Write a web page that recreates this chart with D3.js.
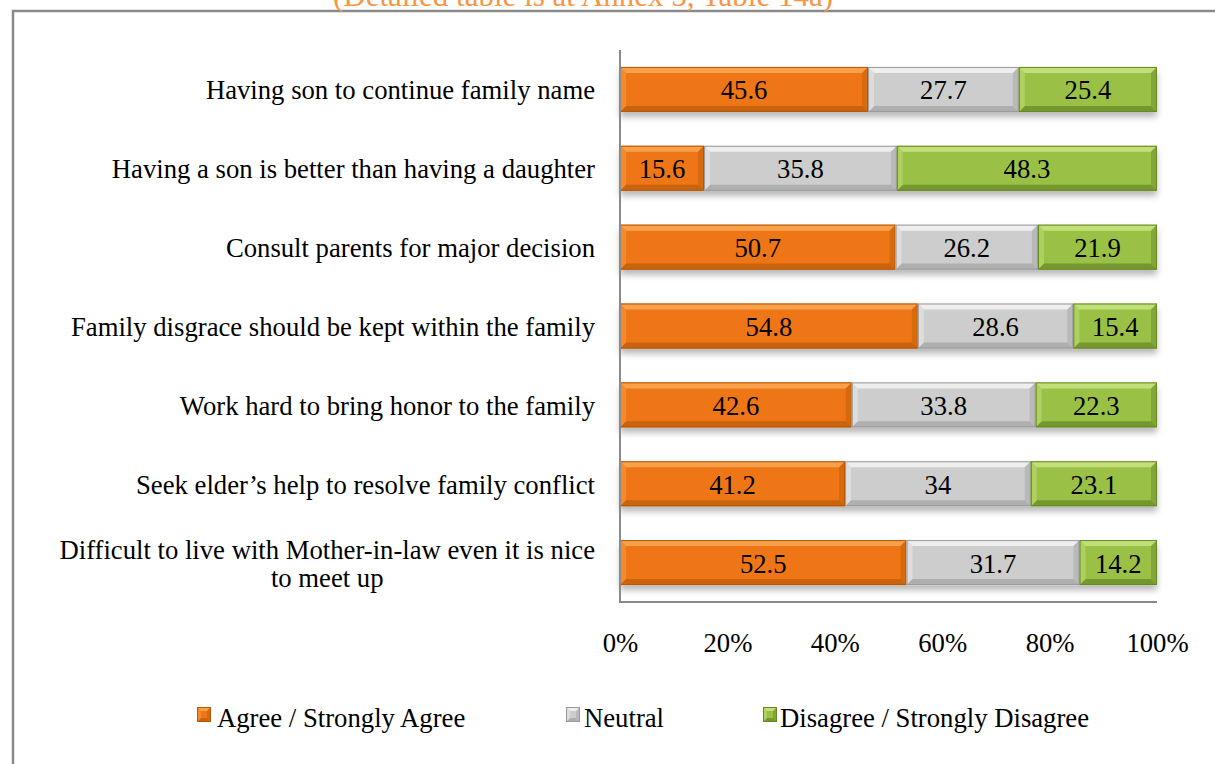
<!DOCTYPE html>
<html>
<head>
<meta charset="utf-8">
<script src="https://cdn.jsdelivr.net/npm/d3@7"></script>
<style>
  html, body { margin: 0; padding: 0; background: #fff; }
  svg { display: block; }
  text { font-family: "Liberation Serif", "Times New Roman", serif; }
</style>
</head>
<body>
<script>
const categories = [
  "Having son to continue family name",
  "Having a son is better than having a daughter",
  "Consult parents for major decision",
  "Family disgrace should be kept within the family",
  "Work hard to bring honor to the family",
  "Seek elder\u2019s help to resolve family conflict",
  "Difficult to live with Mother-in-law even it is nice to meet up"
];
const agree    = [45.6, 15.6, 50.7, 54.8, 42.6, 41.2, 52.5];
const neutral  = [27.7, 35.8, 26.2, 28.6, 33.8, 34, 31.7];
const disagree = [25.4, 48.3, 21.9, 15.4, 22.3, 23.1, 14.2];
const seriesNames = ["Agree / Strongly Agree", "Neutral", "Disagree / Strongly Disagree"];
const tickValues = [0, 0.2, 0.4, 0.6, 0.8, 1.0];
const noteText = "(Detailed table is at Annex 5, Table 14a)";

const W = 1215, H = 764;
const FS = 26.7;
const svg = d3.select("body").append("svg").attr("width", W).attr("height", H);

const palette = [
  { base: "#EF7613", light: "#F9A552", dark: "#C2600E", edge: "#B4580C" },
  { base: "#CDCDCD", light: "#F2F2F2", dark: "#A9A9A9", edge: "#9A9A9A" },
  { base: "#9AC145", light: "#C6E37F", dark: "#6F912C", edge: "#688827" }
];

// defs: drop shadow
const defs = svg.append("defs");
const f = defs.append("filter").attr("id", "shadow").attr("x", "-5%").attr("y", "-20%").attr("width", "110%").attr("height", "160%");
f.append("feDropShadow").attr("dx", 0).attr("dy", 5).attr("stdDeviation", 3).attr("flood-color", "#000").attr("flood-opacity", 0.28);

// Frame
svg.append("path")
  .attr("d", `M13,${H + 5} L13,11 L${W + 5},11`)
  .attr("fill", "none").attr("stroke", "#8a8a8a").attr("stroke-width", 2.5);

// Note (partly above the top edge, as in the reference)
svg.append("text")
  .attr("x", 583).attr("y", 6)
  .attr("text-anchor", "middle")
  .attr("font-size", 31)
  .attr("fill", "#F79646")
  .text(noteText);

const x0 = 620, x1 = 1157, yTop = 50, yBot = 602;
const x = d3.scaleLinear().domain([0, 1]).range([x0, x1]);
const y = d3.scaleBand().domain(categories).range([yTop, yBot]).paddingInner(0.43).paddingOuter(0.215);

const rows = categories.map((c, i) => {
  const vals = [agree[i], neutral[i], disagree[i]];
  const tot = d3.sum(vals);
  let acc = 0;
  return vals.map((v, k) => {
    const s = acc / tot; acc += v;
    return { cat: c, k, v, s0: s, s1: acc / tot };
  });
});

function bevel(g, X0, X1, Y0, Y1, col, b) {
  g.append("rect").attr("x", X0).attr("y", Y0).attr("width", X1 - X0).attr("height", Y1 - Y0)
    .attr("fill", col.base);
  g.append("polygon").attr("points", `${X0},${Y0} ${X1},${Y0} ${X1 - b},${Y0 + b} ${X0 + b},${Y0 + b}`)
    .attr("fill", col.light).attr("opacity", 0.9);
  g.append("polygon").attr("points", `${X0},${Y1} ${X1},${Y1} ${X1 - b},${Y1 - b} ${X0 + b},${Y1 - b}`)
    .attr("fill", col.dark).attr("opacity", 0.85);
  g.append("polygon").attr("points", `${X0},${Y0} ${X0 + b},${Y0 + b} ${X0 + b},${Y1 - b} ${X0},${Y1}`)
    .attr("fill", col.light).attr("opacity", 0.45);
  g.append("polygon").attr("points", `${X1},${Y0} ${X1 - b},${Y0 + b} ${X1 - b},${Y1 - b} ${X1},${Y1}`)
    .attr("fill", col.dark).attr("opacity", 0.55);
  g.append("rect").attr("x", X0 + 0.5).attr("y", Y0 + 0.5).attr("width", X1 - X0 - 1).attr("height", Y1 - Y0 - 1)
    .attr("fill", "none").attr("stroke", col.edge).attr("stroke-width", 1);
}

// Bars
const barsG = svg.append("g");
rows.forEach(r => {
  const rowG = barsG.append("g").attr("filter", "url(#shadow)");
  r.forEach(d => {
    const g = rowG.append("g");
    bevel(g, x(d.s0), x(d.s1), y(d.cat), y(d.cat) + y.bandwidth(), palette[d.k], 6);
  });
});

// Data labels
rows.forEach(r => {
  r.forEach(d => {
    svg.append("text")
      .attr("x", (x(d.s0) + x(d.s1)) / 2)
      .attr("y", y(d.cat) + y.bandwidth() / 2 + 10)
      .attr("text-anchor", "middle")
      .attr("font-size", FS)
      .attr("fill", "#000")
      .text(d.v);
  });
});

// Axes lines
svg.append("line").attr("x1", x0).attr("x2", x0).attr("y1", yTop).attr("y2", yBot + 1)
  .attr("stroke", "#8a8a8a").attr("stroke-width", 2);
svg.append("line").attr("x1", x0).attr("x2", x1).attr("y1", yBot).attr("y2", yBot)
  .attr("stroke", "#8a8a8a").attr("stroke-width", 2);

// X tick labels via axis
const xAxis = d3.axisBottom(x).tickValues(tickValues).tickFormat(d3.format(".0%")).tickSize(0).tickPadding(0);
const xg = svg.append("g").attr("transform", `translate(0,${yBot})`).call(xAxis);
xg.select(".domain").remove();
xg.selectAll("text").attr("font-size", FS).attr("fill", "#000")
  .attr("font-family", "Liberation Serif, Times New Roman, serif")
  .attr("dy", null).attr("y", 50);

// Y category labels (wrapped)
const maxW = 550;
function textWidth(s) {
  const p = svg.append("text").attr("font-size", FS).attr("visibility", "hidden").text(s);
  const w = p.node().getComputedTextLength();
  p.remove();
  return w;
}
categories.forEach(c => {
  const t = svg.append("text").attr("font-size", FS).attr("fill", "#000");
  const words = c.split(" ");
  let lines = [], cur = [];
  words.forEach(w => {
    const test = cur.concat([w]).join(" ");
    if (textWidth(test) > maxW && cur.length) {
      lines.push(cur.join(" ")); cur = [w];
    } else cur.push(w);
  });
  lines.push(cur.join(" "));
  const cy = y(c) + y.bandwidth() / 2;
  const lh = 28;
  if (lines.length === 1) {
    t.attr("x", 595).attr("y", cy + 10).attr("text-anchor", "end").text(lines[0]);
  } else {
    const w0 = textWidth(lines[0]);
    const cx = 595 - w0 / 2;
    lines.forEach((ln, i) => {
      t.append("tspan").attr("x", cx).attr("y", cy + 10 - (lines.length - 1) * lh / 2 + i * lh)
        .attr("text-anchor", "middle").text(ln);
    });
  }
});

// Legend
const legendItems = [
  { name: seriesNames[0], mx: 197, tx: 217 },
  { name: seriesNames[1], mx: 566, tx: 584 },
  { name: seriesNames[2], mx: 763, tx: 780 }
];
legendItems.forEach((it, i) => {
  const g = svg.append("g");
  bevel(g, it.mx, it.mx + 14, 707, 722, palette[i], 4);
  svg.append("text").attr("x", it.tx).attr("y", 727).attr("font-size", FS).attr("fill", "#000").text(it.name);
});
</script>
</body>
</html>
